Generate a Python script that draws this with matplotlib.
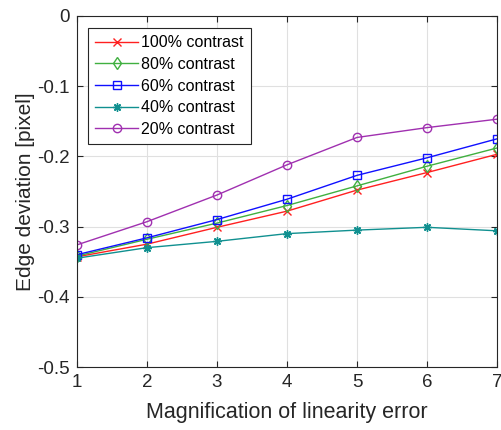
import matplotlib
matplotlib.use("Agg")
import matplotlib.pyplot as plt

plt.rcParams['font.family'] = ['Liberation Sans', 'DejaVu Sans']

magnification = [1, 2, 3, 4, 5, 6, 7]
labels = ["100% contrast", "80% contrast", "60% contrast", "40% contrast", "20% contrast"]
dev_100 = [-0.343, -0.325, -0.301, -0.278, -0.248, -0.223, -0.197]
dev_80 = [-0.342, -0.318, -0.295, -0.270, -0.242, -0.214, -0.188]
dev_60 = [-0.340, -0.316, -0.290, -0.261, -0.227, -0.202, -0.175]
dev_40 = [-0.345, -0.330, -0.321, -0.310, -0.305, -0.301, -0.306]
dev_20 = [-0.326, -0.293, -0.255, -0.212, -0.173, -0.159, -0.147]

series = [dev_100, dev_80, dev_60, dev_40, dev_20]
colors = ["#ff2020", "#40b040", "#1010ff", "#109090", "#a030b0"]
# asterisk for 40% is an 8-spoke star made of lines
markers = ["x", "d", "s", (8, 2, 0), "o"]

fig = plt.figure(figsize=(5.02, 4.30), dpi=100)
ax = fig.add_axes([77 / 502, 1 - 367 / 430, 420 / 502, 351 / 430])

for vals, lab, c, m in zip(series, labels, colors, markers):
    ax.plot(magnification, vals, color=c, marker=m, label=lab, linewidth=1.0,
            markersize=6, markerfacecolor='none', markeredgewidth=1.0)

ax.set_xlim(1, 7)
ax.set_ylim(-0.5, 0)
ax.set_xticks(magnification)
ax.set_yticks([-0.5, -0.4, -0.3, -0.2, -0.1, 0])
ax.set_yticklabels(["-0.5", "-0.4", "-0.3", "-0.2", "-0.1", "0"])
ax.grid(True, color='#e0e0e0', linewidth=0.8)
ax.tick_params(direction='in', labelsize=13.5, colors='#262626', length=4,
               top=True, right=True, pad=5)
for s in ax.spines.values():
    s.set_color('#262626')
    s.set_linewidth(0.8)

ax.set_xlabel("Magnification of linearity error", fontsize=15.5, color='#262626', labelpad=8)
ax.set_ylabel("Edge deviation [pixel]", fontsize=15, color='#262626', labelpad=2)

leg = ax.legend(loc='upper left', bbox_to_anchor=(0.026, 0.966), borderaxespad=0,
                fontsize=11.5, fancybox=False, framealpha=1, edgecolor='#262626',
                handlelength=2.7, borderpad=0.45, labelspacing=0.42, handletextpad=0.2)
leg.get_frame().set_linewidth(0.8)

fig.savefig("out.png", dpi=100)
